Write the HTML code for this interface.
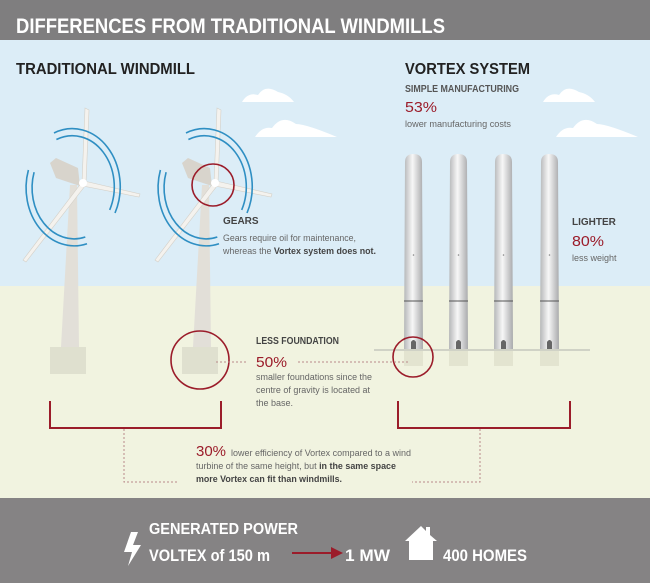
<!DOCTYPE html>
<html><head><meta charset="utf-8"><style>
html,body{margin:0;padding:0;}
body{width:650px;height:583px;overflow:hidden;font-family:"Liberation Sans",sans-serif;}
svg text{font-family:"Liberation Sans",sans-serif;}
</style></head><body>
<svg width="650" height="583" viewBox="0 0 650 583" xmlns="http://www.w3.org/2000/svg">
<rect x="0" y="0" width="650" height="583" fill="#dcedf7"/>
<rect x="0" y="286" width="650" height="212" fill="#f1f3e0"/>
<rect x="0" y="0" width="650" height="40" fill="#7f7e7f"/>
<rect x="0" y="498" width="650" height="85" fill="#858384"/>
<text x="16" y="33" fill="#fff" font-size="21" font-weight="bold" textLength="429" lengthAdjust="spacingAndGlyphs">DIFFERENCES FROM TRADITIONAL WINDMILLS</text>
<text x="16" y="74" fill="#222" font-size="16" font-weight="bold" textLength="179" lengthAdjust="spacingAndGlyphs">TRADITIONAL WINDMILL</text>
<text x="405" y="74" fill="#222" font-size="16" font-weight="bold" textLength="125" lengthAdjust="spacingAndGlyphs">VORTEX SYSTEM</text>
<text x="405" y="92" fill="#555" font-size="10" font-weight="bold" textLength="114" lengthAdjust="spacingAndGlyphs">SIMPLE MANUFACTURING</text>
<text x="405" y="112" fill="#9b1c2a" font-size="15" textLength="32" lengthAdjust="spacingAndGlyphs">53%</text>
<text x="405" y="127" fill="#666" font-size="9" textLength="106" lengthAdjust="spacingAndGlyphs">lower manufacturing costs</text>
<!-- clouds -->
<g fill="#fff">
<path d="M242 102 Q248 92 258 95 Q265 84 278 92 Q288 94 294 102 Z"/>
<path d="M255 137 Q262 126 272 128 Q282 114 296 124 Q306 124 337 137 Z"/>
<path d="M543 102 Q549 92 559 95 Q566 84 579 92 Q589 94 595 102 Z"/>
<path d="M556 137 Q563 126 573 128 Q583 114 597 124 Q607 124 638 137 Z"/>
</g>
<!-- windmills -->
<g id="wm">
<polygon points="70,185 77,185 79,347 61,347" fill="#e2dfd8"/>
<rect x="50" y="347" width="36" height="27" fill="#dfe0cf"/>
<g fill="#f4f2ee" stroke="#d4d0c8" stroke-width="0.6">
<polygon points="82,183 85,108 89,110 86,183"/>
<polygon points="84,181 140,194 139,197 83,186"/>
<polygon points="82,182 85,186 26,262 23,260"/>
</g>
<polygon points="50,163 56,158 78,168 80,186 56,178" fill="#d8d4cc"/>
<circle cx="83" cy="183" r="4" fill="#fff"/>
<g fill="none" stroke="#2f8fc3" stroke-width="1.6">
<path d="M54 133 A48 58 0 0 1 115 213"/>
<path d="M56.4 139.5 A42 51 0 0 1 109.7 209.9"/>
<path d="M28.4 170 A48 58 0 0 0 87 243.7"/>
<path d="M34.1 172.2 A42 51 0 0 0 85.3 237"/>
</g>
</g>
<use href="#wm" x="132"/>
<circle cx="213" cy="185" r="21" fill="none" stroke="#9b1c2a" stroke-width="1.6"/>
<text x="223" y="224" fill="#444" font-size="10" font-weight="bold">GEARS</text>
<text x="223" y="241" fill="#666" font-size="9" textLength="133" lengthAdjust="spacingAndGlyphs">Gears require oil for maintenance,</text>
<text x="223" y="254" fill="#666" font-size="9" textLength="153" lengthAdjust="spacingAndGlyphs">whereas the <tspan font-weight="bold" fill="#444">Vortex system does not.</tspan></text>
<!-- vortex poles -->
<defs><linearGradient id="pg" x1="0" x2="1"><stop offset="0" stop-color="#b5b6b8"/><stop offset="0.45" stop-color="#f7f7f7"/><stop offset="1" stop-color="#a9aaac"/></linearGradient></defs>
<g id="pole">
<rect x="404" y="350" width="19" height="16" fill="#e3e4d0"/>
<path d="M405 162 Q405 154 413.5 154 Q422 154 422 162 L423 349 L404 349 Z" fill="url(#pg)"/>
<line x1="404" y1="301" x2="423" y2="301" stroke="#555" stroke-width="1"/>
<path d="M411 349 L411 342 Q413.5 338 416 342 L416 349" fill="#666"/>
<circle cx="413.5" cy="255" r="0.8" fill="#888"/>
</g>
<use href="#pole" x="45"/>
<use href="#pole" x="90"/>
<use href="#pole" x="136"/>
<line x1="374" y1="350" x2="590" y2="350" stroke="#d0d2c6" stroke-width="2"/>
<circle cx="413" cy="357" r="20" fill="none" stroke="#9b1c2a" stroke-width="1.6"/>
<circle cx="200" cy="360" r="29" fill="none" stroke="#9b1c2a" stroke-width="1.6"/>
<text x="572" y="225" fill="#444" font-size="10" font-weight="bold">LIGHTER</text>
<text x="572" y="246" fill="#9b1c2a" font-size="15" textLength="32" lengthAdjust="spacingAndGlyphs">80%</text>
<text x="572" y="261" fill="#666" font-size="9">less weight</text>
<!-- foundation text -->
<text x="256" y="344" fill="#444" font-size="10" font-weight="bold" textLength="83" lengthAdjust="spacingAndGlyphs">LESS FOUNDATION</text>
<text x="256" y="367" fill="#9b1c2a" font-size="15" textLength="31" lengthAdjust="spacingAndGlyphs">50%</text>
<g stroke="#b98a8a" stroke-width="1" stroke-dasharray="2,2" fill="none">
<line x1="216" y1="362" x2="246" y2="362"/>
<line x1="298" y1="362" x2="410" y2="362"/>
<path d="M124 429 V482 H178"/>
<path d="M480 429 V482 H412"/>
</g>
<text x="256" y="380" fill="#666" font-size="9" textLength="116" lengthAdjust="spacingAndGlyphs">smaller foundations since the</text>
<text x="256" y="393" fill="#666" font-size="9" textLength="114" lengthAdjust="spacingAndGlyphs">centre of gravity is located at</text>
<text x="256" y="406" fill="#666" font-size="9">the base.</text>
<g fill="none" stroke="#9b1c2a" stroke-width="2">
<path d="M50 401 V428 H221 V401"/>
<path d="M398 401 V428 H570 V401"/>
</g>
<text x="196" y="456" fill="#9b1c2a" font-size="15" textLength="30" lengthAdjust="spacingAndGlyphs">30%</text>
<text x="231" y="456" fill="#666" font-size="9" textLength="180" lengthAdjust="spacingAndGlyphs">lower efficiency of Vortex compared to a wind</text>
<text x="196" y="469" fill="#666" font-size="9" textLength="200" lengthAdjust="spacingAndGlyphs">turbine of the same height, but <tspan font-weight="bold" fill="#444">in the same space</tspan></text>
<text x="196" y="482" fill="#444" font-size="9" font-weight="bold" textLength="146" lengthAdjust="spacingAndGlyphs">more Vortex can fit than windmills.</text>
<!-- bottom -->
<text x="149" y="534" fill="#fff" font-size="16" font-weight="bold" textLength="149" lengthAdjust="spacingAndGlyphs">GENERATED POWER</text>
<text x="149" y="561" fill="#fff" font-size="17" font-weight="bold" textLength="121" lengthAdjust="spacingAndGlyphs">VOLTEX of 150 m</text>
<polygon points="131,532 124,552 132,552 128,566 141,545 133,545 138,532" fill="#fff"/>
<line x1="292" y1="553" x2="333" y2="553" stroke="#9b1c2a" stroke-width="2"/>
<polygon points="331,547 343,553 331,559" fill="#9b1c2a"/>
<text x="345" y="561" fill="#fff" font-size="17" font-weight="bold" textLength="45" lengthAdjust="spacingAndGlyphs">1 MW</text>
<polygon points="405,541 421,526 426,531 426,527 430,527 430,535 437,541 433,541 433,560 409,560 409,541" fill="#fff"/>
<text x="443" y="561" fill="#fff" font-size="17" font-weight="bold" textLength="84" lengthAdjust="spacingAndGlyphs">400 HOMES</text>
</svg>
</body></html>
